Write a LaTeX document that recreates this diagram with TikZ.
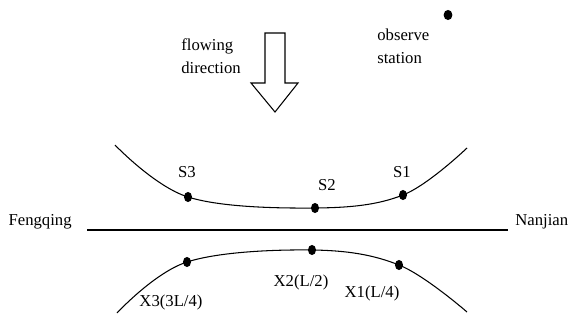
\documentclass[tikz,border=0pt]{standalone}
\usepackage{fontspec}
\setmainfont{Liberation Serif}
\usetikzlibrary{positioning,shapes.geometric}

\tikzset{
  gauge/.style={ellipse, fill=black, inner sep=0pt, minimum width=4.6pt, minimum height=5.8pt},
  tag/.style={font=\fontsize{9.5}{13}\selectfont, inner sep=0pt, align=left},
  bank/.style={line width=0.6pt},
}

\begin{document}
\begin{tikzpicture}[x=0.02cm, y=-0.02cm]
  \useasboundingbox (0,0) rectangle (573,320);

  % flowing direction
  \draw[line width=0.6pt] (265,33) -- (285,33) -- (285,83) -- (298,83) -- (275,112)
    -- (251,83) -- (265,83) -- cycle;
  \node[tag, anchor=west] (flow) at (181,56) {flowing\\direction};

  % observe station
  \node[gauge, minimum width=5pt, minimum height=5.8pt] (obs) at (448,15) {};
  \node[tag, anchor=west] (obstext) at (377,46) {observe\\station};

  % upper bank
  \coordinate (ul) at (115,145);
  \coordinate (ur) at (467,148);
  \node[gauge] (S3) at (188,197) {};
  \node[gauge] (S2) at (315,208) {};
  \node[gauge] (S1) at (403,195) {};
  \draw[bank] plot[smooth, tension=0.6] coordinates
    {(ul) (S3.center) (S2.center) (S1.center) (ur)};
  \node[tag] at (187,172) {S3};
  \node[tag] at (327,185) {S2};
  \node[tag] at (402,172) {S1};

  % river line
  \node[tag, anchor=east] (fq) at (72,222) {Fengqing};
  \node[tag, anchor=west] (nj) at (515,222) {Nanjian};
  \coordinate (lineL) at (87,230);
  \coordinate (lineR) at (508,230);
  \draw[line width=0.8pt] (lineL) -- (lineR);

  % lower bank
  \coordinate (ll) at (117,313);
  \coordinate (lr) at (467,312);
  \node[gauge] (X3) at (187,262) {};
  \node[gauge] (X2) at (312,250) {};
  \node[gauge] (X1) at (399,265) {};
  \draw[bank] plot[smooth, tension=0.6] coordinates
    {(ll) (X3.center) (X2.center) (X1.center) (lr)};
  \node[tag] at (171,302) {X3(3L/4)};
  \node[tag] at (301,282) {X2(L/2)};
  \node[tag] at (372,293) {X1(L/4)};
\end{tikzpicture}
\end{document}
